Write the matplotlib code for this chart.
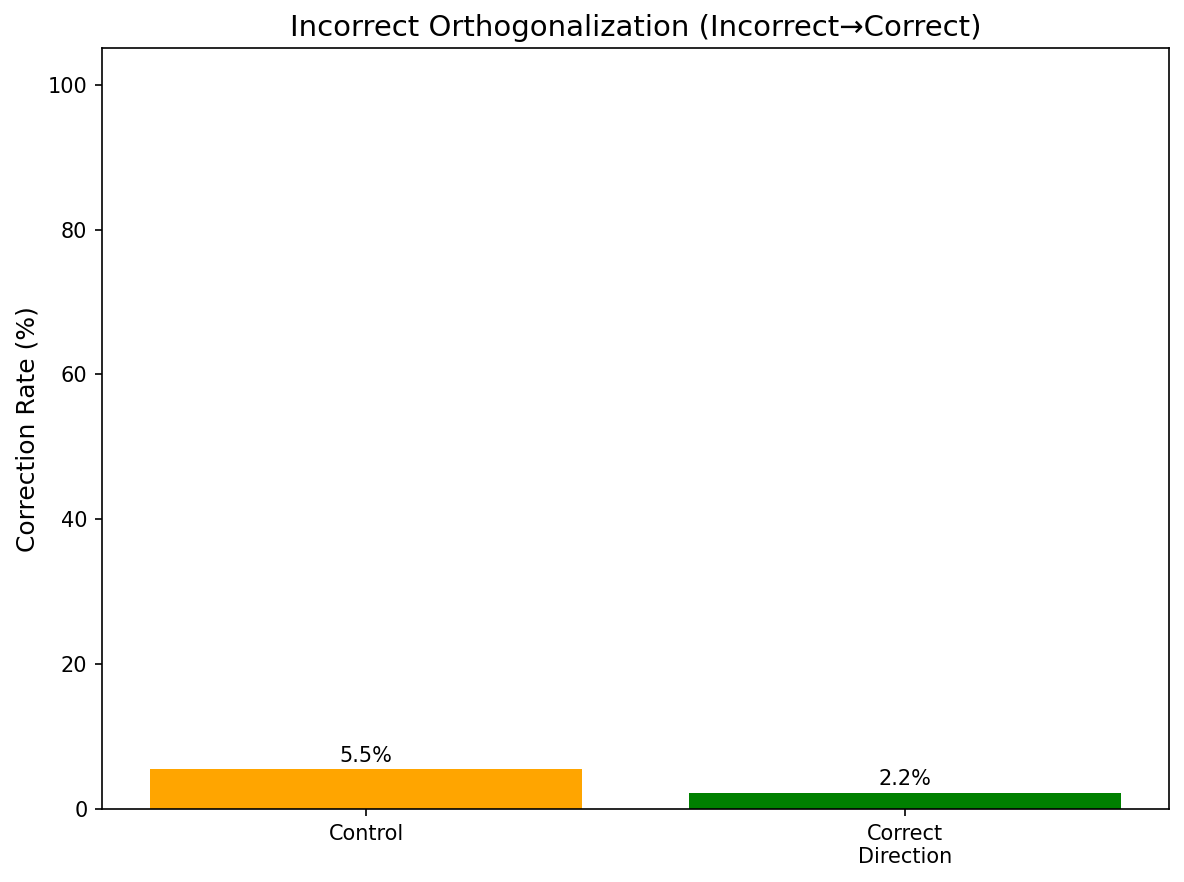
import matplotlib
matplotlib.use("Agg")
import matplotlib.pyplot as plt

conditions = ["Control", "Correct\nDirection"]
rates = [5.5, 2.2]
bar_colors = ["orange", "green"]

fig = plt.figure(figsize=(1184 / 150, 882 / 150), dpi=150)
ax = fig.add_axes([102 / 1184, 1 - 809 / 882, (1169 - 102) / 1184, (809 - 48.5) / 882])

bars = ax.bar(conditions, rates, color=bar_colors, width=0.8)
for bar, rate in zip(bars, rates):
    ax.text(bar.get_x() + bar.get_width() / 2, bar.get_height() + 0.5,
            f"{rate:.1f}%", ha="center", va="bottom", fontsize=10)

ax.set_ylim(0, 105)
ax.set_ylabel("Correction Rate (%)", fontsize=12)
ax.set_title("Incorrect Orthogonalization (Incorrect\u2192Correct)", fontsize=14)

fig.savefig("out.png", dpi=150)
